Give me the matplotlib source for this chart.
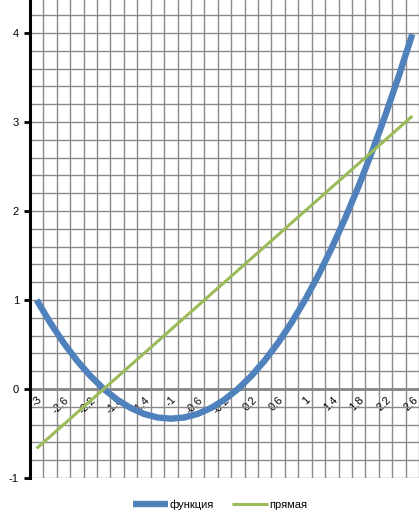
import matplotlib
matplotlib.use("Agg")
import matplotlib.pyplot as plt
from matplotlib.ticker import MultipleLocator

plt.rcParams["font.family"] = ["Liberation Sans", "DejaVu Sans"]

x_vals = [-3, -2.8, -2.6, -2.4, -2.2, -2, -1.8, -1.6, -1.4, -1.2, -1, -0.8, -0.6, -0.4, -0.2,
          0, 0.2, 0.4, 0.6, 0.8, 1, 1.2, 1.4, 1.6, 1.8, 2, 2.2, 2.4, 2.6]
func_vals = [1.0, 0.747, 0.52, 0.32, 0.147, 0.0, -0.12, -0.213, -0.28, -0.32, -0.333, -0.32, -0.28,
             -0.213, -0.12, 0.0, 0.147, 0.32, 0.52, 0.747, 1.0, 1.28, 1.587, 1.92, 2.28, 2.667,
             3.08, 3.52, 3.987]
line_vals = [-0.667, -0.533, -0.4, -0.267, -0.133, 0.0, 0.133, 0.267, 0.4, 0.533, 0.667, 0.8,
             0.933, 1.067, 1.2, 1.333, 1.467, 1.6, 1.733, 1.867, 2.0, 2.133, 2.267, 2.4, 2.533,
             2.667, 2.8, 2.933, 3.067]
y_ticks = [-1, 0, 1, 2, 3, 4]

fig = plt.figure(figsize=(4.19, 5.14), dpi=100)
ax = fig.add_axes([30/419, 36/514, 389/419, 478/514])

idx = list(range(len(x_vals)))
ax.set_xlim(-0.5, len(x_vals) - 0.5)
ax.set_ylim(-1, 4.371)

# grid
for b in range(len(x_vals) + 1):
    ax.axvline(b - 0.5, color="#8a8a8a", lw=1.0, zorder=1)
ax.yaxis.set_minor_locator(MultipleLocator(0.2))
ax.grid(True, which="both", axis="y", color="#8a8a8a", lw=1.0, zorder=1)

ax.plot(idx, func_vals, color="#4F81BD", lw=4.6, solid_capstyle="butt", label="функция", zorder=3)
ax.plot(idx, line_vals, color="#9BBB59", lw=2.2, solid_capstyle="butt", label="прямая", zorder=4)

for s in ["top", "right"]:
    ax.spines[s].set_visible(False)
ax.spines["left"].set_color("black")
ax.spines["left"].set_linewidth(2.2)
ax.spines["bottom"].set_position(("data", 0))
ax.spines["bottom"].set_color("#868686")
ax.spines["bottom"].set_linewidth(2.0)
ax.spines["bottom"].set_zorder(2)

ax.set_yticks(y_ticks)
ax.set_yticklabels([str(v) for v in y_ticks])
ax.tick_params(axis="y", which="major", length=4, width=2, color="black", labelsize=8, pad=4)
ax.tick_params(axis="y", which="minor", length=0)

lab_idx = idx[::2]
labels = [("%g" % x_vals[i]).replace(".", ",") for i in lab_idx]
ax.set_xticks(lab_idx)
ax.set_xticklabels(labels, rotation=45, ha="right", va="top", rotation_mode="anchor")
ax.tick_params(axis="x", length=0, labelsize=8, pad=4)

fig.legend(loc="center", bbox_to_anchor=(0.525, 0.018), ncol=2, frameon=False, fontsize=8,
           handlelength=3.2, columnspacing=1.6, handletextpad=0.15)

fig.savefig("out.png", dpi=100)
